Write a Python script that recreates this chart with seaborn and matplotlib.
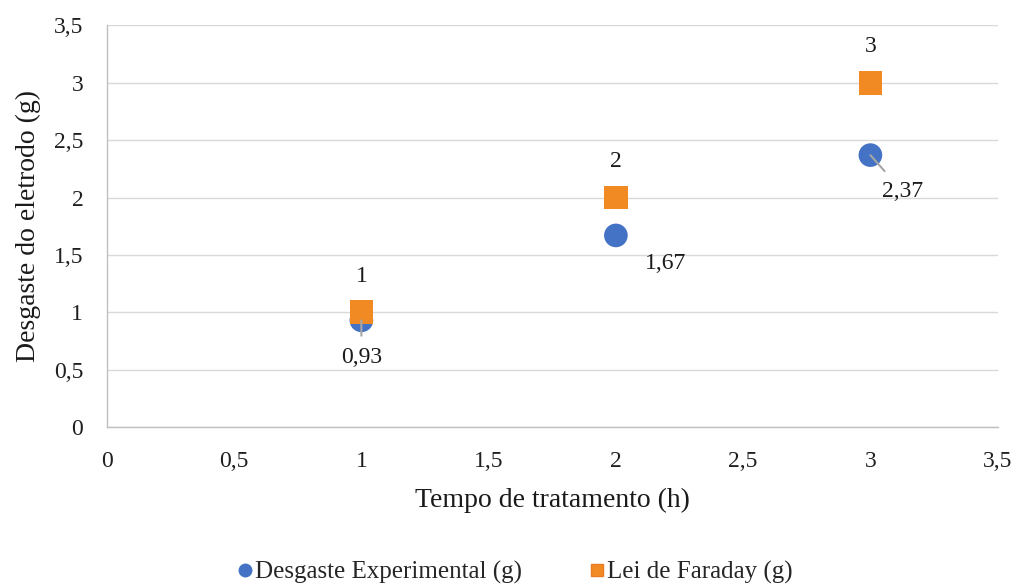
import matplotlib
matplotlib.use("Agg")
import matplotlib.pyplot as plt
from matplotlib.lines import Line2D
import seaborn as sns
import pandas as pd

# Treatment time (h) and electrode wear (g)
tempo = [1, 2, 3]
desgaste_exp = [0.93, 1.67, 2.37]
lei_faraday = [1, 2, 3]
serie_exp = "Desgaste Experimental (g)"
serie_far = "Lei de Faraday (g)"
ticks = [0, 0.5, 1, 1.5, 2, 2.5, 3, 3.5]

BLUE = "#4472C4"
ORANGE = "#F28A24"
ORANGE_EDGE = "#EA7B22"


def fmt(v):
    return f"{v:g}".replace(".", ",")


df = pd.DataFrame({
    "Tempo": tempo * 2,
    "Desgaste": desgaste_exp + lei_faraday,
    "Serie": [serie_exp] * len(tempo) + [serie_far] * len(tempo),
})

sns.set_theme(style="white")
plt.rcParams["font.family"] = ["Liberation Serif", "DejaVu Serif"]

fig = plt.figure(figsize=(10.18, 5.85), dpi=100)
ax = fig.add_axes([0.105, 0.270, 0.875, 0.6865])

palette = {serie_exp: BLUE, serie_far: ORANGE}
markers = {serie_exp: "o", serie_far: "s"}
sns.scatterplot(data=df, x="Tempo", y="Desgaste", hue="Serie", style="Serie",
                palette=palette, markers=markers, s=290, linewidth=0,
                ax=ax, legend=False, zorder=3)

ax.set_xlim(0, 3.5)
ax.set_ylim(0, 3.5)
ax.set_xticks(ticks)
ax.set_yticks(ticks)
ax.set_xticklabels([fmt(t) for t in ticks], fontsize=17)
ax.set_yticklabels([fmt(t) for t in ticks], fontsize=17)
ax.tick_params(axis="x", length=0, pad=17, colors="#1f1f1f")
ax.tick_params(axis="y", length=0, pad=17, colors="#1f1f1f")
ax.yaxis.grid(True, color="#D9D9D9", linewidth=1)
ax.xaxis.grid(False)
ax.set_axisbelow(True)
for side in ["top", "right"]:
    ax.spines[side].set_visible(False)
for side in ["left", "bottom"]:
    ax.spines[side].set_color("#BFBFBF")
    ax.spines[side].set_linewidth(1)

ax.set_xlabel("Tempo de tratamento (h)", fontsize=20, labelpad=12, color="#1a1a1a")
ax.set_ylabel("Desgaste do eletrodo (g)", fontsize=20, labelpad=9, color="#1a1a1a")

# value labels for the Faraday series (above each square)
for x, y in zip(tempo, lei_faraday):
    ax.annotate(fmt(y), (x, y), xytext=(0, 26), textcoords="offset points",
                ha="center", va="center", fontsize=17, color="#1a1a1a")

# value labels for the experimental series, with leader lines
offsets = [(0, -27), (36, -20), (23, -26)]
leaders = [True, False, True]
for x, y, off, lead in zip(tempo, desgaste_exp, offsets, leaders):
    kw = {}
    if lead:
        kw["arrowprops"] = dict(arrowstyle="-", color="#A6A6A6", lw=1.5,
                                shrinkA=6, shrinkB=0)
    ax.annotate(fmt(y), (x, y), xytext=off, textcoords="offset points",
                ha="center", va="center", fontsize=17, color="#1a1a1a",
                zorder=5, **kw)

# legend below the plot
handles = [
    Line2D([], [], marker="o", linestyle="none", markersize=9,
           markerfacecolor=BLUE, markeredgecolor=BLUE),
    Line2D([], [], marker="s", linestyle="none", markersize=9,
           markerfacecolor=ORANGE, markeredgecolor=ORANGE_EDGE),
]
fig.legend(handles, [serie_exp, serie_far], loc="center", ncol=2,
           bbox_to_anchor=(0.505, 0.022), frameon=False, fontsize=18,
           handletextpad=0.0, columnspacing=2.6, handlelength=0.8)

fig.savefig("out.png", dpi=100)
